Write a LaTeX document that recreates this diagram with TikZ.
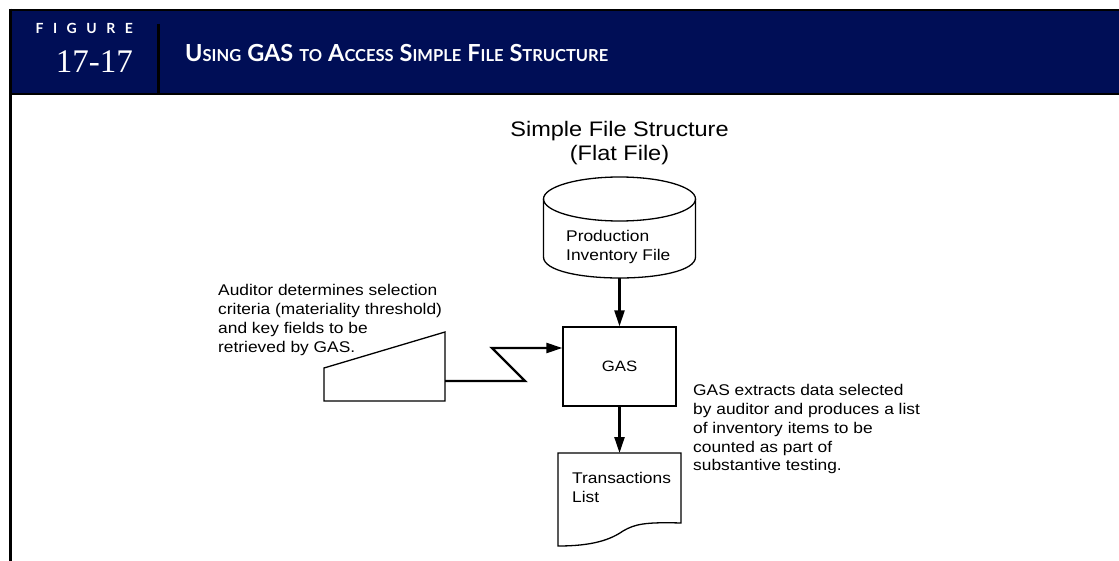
\documentclass[tikz,border=0pt]{standalone}
\usepackage{fontspec}
\setmainfont{Liberation Sans}[FakeStretch=1.12]
\newfontfamily\headfont{Lato}
\newfontfamily\numfont{Liberation Serif}
\usetikzlibrary{positioning,arrows.meta}
\definecolor{navy}{HTML}{000E56}
\newcommand{\hdcap}[1]{{\fontsize{23.5}{24}\selectfont #1}}
\newcommand{\hdsc}[1]{{\fontsize{16.5}{17}\selectfont #1}}
\newcommand{\hdgap}{\hspace{6pt}}

\begin{document}
\begin{tikzpicture}[x=1pt, y=-1pt,
    every node/.style={font=\fontsize{15.5}{18.7}\selectfont, inner sep=0pt},
    flow/.style={line width=2.4pt, -{Triangle[length=16pt, width=10pt]}},
    shape line/.style={line width=1.3pt},
    note/.style={anchor=north west, align=left}]
    \useasboundingbox (0,0) rectangle (1119,561);

    % Header band
    \fill[navy] (10,10) rectangle (1119,94);
    \draw[line width=2.5pt] (10,10) -- (1119,10);
    \draw[line width=2.5pt] (10,94) -- (1119,94);
    \draw[line width=3pt] (10,8.75) -- (10,561);
    \draw[line width=3pt] (158.5,24) -- (158.5,94);
    \node[anchor=base east, white, font=\headfont\bfseries\fontsize{14}{14}\selectfont] (figword) at (133,34)
        {F\hspace{9.5pt}I\hspace{9.5pt}G\hspace{9.5pt}U\hspace{9.5pt}R\hspace{9.5pt}E};
    \node[anchor=base east, white, font=\numfont\fontsize{33}{33}\selectfont] (fignum) at (133,73) {17-17};
    \node[anchor=base west, white, font=\headfont\bfseries\fontsize{16.5}{17}\selectfont] (title) at (185,61.7)
        {\hdcap{U}\hdsc{SING}\hdgap\hdcap{GAS}\hdgap\hdsc{TO}\hdgap\hdcap{A}\hdsc{CCESS}\hdgap\hdcap{S}\hdsc{IMPLE}\hdgap\hdcap{F}\hdsc{ILE}\hdgap\hdcap{S}\hdsc{TRUCTURE}};

    % Diagram heading
    \node[anchor=north, align=center, font=\fontsize{21}{24}\selectfont] (sfs) at (619.5,121)
        {Simple File Structure\\(Flat File)};

    % Production inventory file (cylinder)
    \draw[shape line] (619.5,199) ellipse [x radius=76, y radius=22];
    \draw[shape line] (543.5,199) -- (543.5,257) .. controls (543.5,285) and (695.5,285) .. (695.5,257) -- (695.5,199);
    \node[note] (prodtext) at (566,230) {Production\\Inventory File};
    \coordinate (prodfile) at (619.5,278);

    % GAS box
    \node[draw, shape line, minimum width=113pt, minimum height=79pt, font=\fontsize{15}{18}\selectfont] (gas) at (619.5,366.5) {GAS};

    % Transactions list (document)
    \draw[shape line] (558,453) -- (681,453) -- (681,523)
        .. controls (645,522) and (635,524) .. (623,531)
        .. controls (610,540) and (592,546) .. (558,546) -- cycle;
    \node[note] (transtext) at (572,472.5) {Transactions\\List};
    \coordinate (translist) at (619.5,453);

    % Manual input
    \draw[shape line] (324,368) -- (445,332) -- (445,401) -- (324,401) -- cycle;
    \coordinate (manin) at (445,381);
    \coordinate (zig) at (525,381);
    \coordinate (zag) at (492,348);

    % Notes
    \node[note] (audnote) at (218,284.5)
        {Auditor determines selection\\criteria (materiality threshold)\\and key fields to be\\retrieved by GAS.};
    \node[note] (gasnote) at (693,384.5)
        {GAS extracts data selected\\by auditor and produces a list\\of inventory items to be\\counted as part of\\substantive testing.};

    % Connectors
    \draw[flow] (prodfile) -- (gas.north);
    \draw[flow] (gas.south) -- (translist);
    \draw[flow] (manin) -- (zig) -- (zag) -- (zag -| gas.west);
\end{tikzpicture}
\end{document}
